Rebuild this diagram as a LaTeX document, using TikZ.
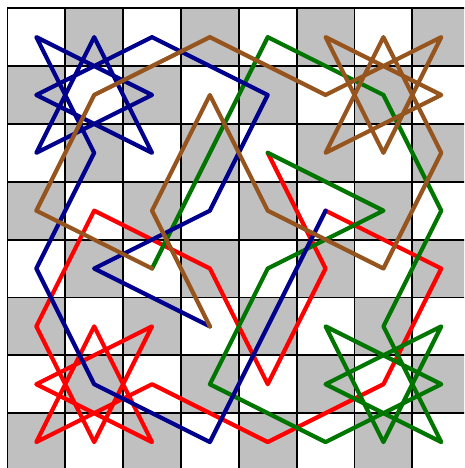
\documentclass[tikz,border=0pt]{standalone}
\definecolor{cellgray}{RGB}{192,192,192}
\definecolor{tourblue}{RGB}{0,0,140}
\definecolor{tourred}{RGB}{255,0,0}
\definecolor{tourgreen}{RGB}{0,118,0}
\definecolor{tourbrown}{RGB}{150,85,30}
\tikzset{
  gridline/.style={line width=1.8pt, black, line cap=rect},
  tourline/.style={line width=4.2pt, line join=round, line cap=round},
}
\begin{document}
\begin{tikzpicture}[x=1pt,y=1pt]
\useasboundingbox (0,0) rectangle (464,-468);
\clip (0,0) rectangle (464,-468);
\fill[white] (0,0) rectangle (464,-468);
\begin{scope}[shift={(7.4,-8.2)}, x=57.85pt, y=-57.85pt]
  % checkerboard
  \foreach \c in {0,...,7} {
    \foreach \r in {0,...,7} {
      \pgfmathparse{int(mod(\c+\r,2))}
      \ifnum\pgfmathresult=1
        \fill[cellgray] (\c,\r) rectangle ++(1,1);
      \fi
      \coordinate (p\c\r) at (\c+0.5,\r+0.5);
    }
  }
  % grid
  \foreach \i in {0,...,8} {
    \draw[gridline] (\i,0) -- (\i,8);
    \draw[gridline] (0,\i) -- (8,\i);
  }
  % red
  \draw[tourline, tourred] (p53) -- (p74) -- (p66) -- (p47) -- (p26) -- (p07) -- (p15) -- (p27) -- (p06) -- (p25) -- (p17) -- (p05) -- (p13) -- (p34) -- (p46) -- (p54) -- (p42);
  % green
  \draw[tourline, tourgreen] (p42) -- (p63) -- (p44) -- (p36) -- (p57) -- (p76) -- (p55) -- (p67) -- (p75) -- (p56) -- (p77) -- (p65) -- (p73) -- (p61) -- (p40) -- (p32) -- (p24);
  % blue
  \draw[tourline, tourblue] (p35) -- (p14) -- (p33) -- (p41) -- (p20) -- (p01) -- (p22) -- (p10) -- (p02) -- (p21) -- (p00) -- (p12) -- (p04) -- (p16) -- (p37) -- (p45) -- (p53);
  % brown
  \draw[tourline, tourbrown] (p24) -- (p03) -- (p11) -- (p30) -- (p51) -- (p70) -- (p62) -- (p50) -- (p71) -- (p52) -- (p60) -- (p72) -- (p64) -- (p43) -- (p31) -- (p23) -- (p35);
\end{scope}
\end{tikzpicture}
\end{document}
